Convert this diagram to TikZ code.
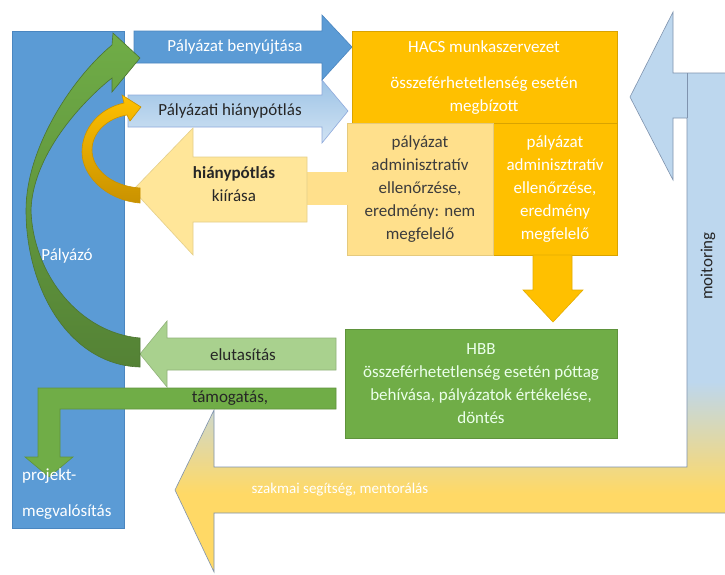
\documentclass[tikz,border=0pt]{standalone}
\usepackage{fontspec}
\setmainfont{Carlito}
\definecolor{pblue}{HTML}{5B9BD5}
\definecolor{pblueb}{HTML}{4A86C0}
\definecolor{lblue}{HTML}{9DC3E6}
\definecolor{llblue}{HTML}{BDD7EE}
\definecolor{lbord}{HTML}{8FAADC}
\definecolor{gold}{HTML}{FFC000}
\definecolor{goldd}{HTML}{C99200}
\definecolor{lyel}{HTML}{FFE699}
\definecolor{lyel2}{HTML}{FFE08C}
\definecolor{myyel}{HTML}{FFD966}
\definecolor{pgreen}{HTML}{70AD47}
\definecolor{lgreen}{HTML}{A9D18E}
\definecolor{dgreen}{HTML}{548235}
\definecolor{txt}{HTML}{262626}
\definecolor{gbord}{HTML}{7F93AE}
\pgfdeclareverticalshading{monshade}{100bp}{color(0bp)=(myyel); color(32bp)=(myyel); color(42bp)=(llblue); color(100bp)=(llblue)}
\tikzset{
  lbl/.style={font=\fontsize{17}{23}\selectfont, align=center, inner sep=0pt},
  wlbl/.style={lbl, text=white},
  dlbl/.style={lbl, text=txt},
  thinb/.style={line width=0.6pt}
}
\begin{document}
\begin{tikzpicture}[x=1pt,y=-1pt]
\useasboundingbox (0,0) rectangle (725,574);
\clip (0,0) rectangle (725,574);
\fill[white] (0,0) rectangle (725,574);

% big monitoring / mentoring arrow
\shadedraw[shading=monshade, draw=gbord, thinb]
  (630,97) -- (673,12) -- (673,73) -- (740,73) -- (740,513) -- (214,513)
  -- (214,572) -- (175,490) -- (214,410) -- (214,467) -- (687,467)
  -- (687,118) -- (673,118) -- (673,180) -- cycle;
\draw[gbord, thinb] (687,73) -- (687,118);

% Palyazo column
\filldraw[fill=pblue, draw=pblueb, thinb] (12,31) rectangle (124,528);

% Palyazat benyujtasa arrow
\filldraw[fill=pblue, draw=pblueb, thinb]
  (134,31) -- (322,31) -- (322,15) -- (352,47) -- (322,80) -- (322,63) -- (134,63) -- cycle;

% Palyazati hianypotlas arrow
\shadedraw[top color=lblue, bottom color=llblue!70!white, draw=lbord, thinb]
  (128,95) -- (322,95) -- (322,80) -- (348,111) -- (322,143) -- (322,127) -- (128,127) -- cycle;

% boxes
\filldraw[fill=gold, draw=gold!85!black, thinb] (352,31) rectangle (617,123);
\filldraw[fill=gold, draw=gold!85!black, thinb] (493,123) rectangle (617,255);
\filldraw[fill=lyel2, draw=lyel2!90!black, thinb] (347,123) rectangle (493,255);

% hianypotlas kiirasa arrow
\fill[lyel2] (305,172) rectangle (348,205);
\filldraw[fill=lyel, draw=lyel!90!black, thinb]
  (133,190) -- (193,128) -- (193,157) -- (307,157) -- (307,222) -- (193,222) -- (193,255) -- cycle;

% down arrow
\filldraw[fill=gold, draw=gold!90!black, thinb]
  (533,255) -- (572,255) -- (572,290) -- (583,290) -- (553,322) -- (523,290) -- (533,290) -- cycle;

% HBB box
\filldraw[fill=pgreen, draw=pgreen!85!black, thinb] (345,329) rectangle (617,438);

% elutasitas arrow
\filldraw[fill=lgreen, draw=lgreen!85!black, thinb]
  (140,354) -- (167,321) -- (167,338) -- (336,338) -- (336,370) -- (167,370) -- (167,387) -- cycle;

% tamogatas bent arrow
\filldraw[fill=pgreen, draw=pgreen!85!black, thinb]
  (336,388) -- (336,409) -- (60,409) -- (60,457) -- (73,457) -- (49,477) -- (25,457) -- (38,457) -- (38,388) -- cycle;

% green curved arrow
\shadedraw[top color=pgreen, bottom color=dgreen, draw=dgreen!90!black, thinb]
  (140,367) .. controls (70,365) and (26,290) .. (26,210)
  .. controls (26,150) and (70,80) .. (112,45)
  -- (113,33) -- (140,58) -- (112,92) -- (112,78)
  .. controls (90,95) and (33,150) .. (31,210)
  .. controls (33,275) and (80,333) .. (140,338) -- cycle;

% yellow curved arrow
\shadedraw[top color=gold, bottom color=goldd, draw=goldd, thinb]
  (140,203) .. controls (105,200) and (82,175) .. (82,152)
  .. controls (82,128) and (100,108) .. (124,103)
  -- (122,95) -- (141,107) -- (130,121) -- (127,115)
  .. controls (108,118) and (92,132) .. (92,150)
  .. controls (92,168) and (110,186) .. (140,188) -- cycle;

% texts
\node[wlbl] (benyujt) at (235,47) {Pályázat benyújtása};
\node[dlbl] (hiany) at (230,111) {Pályázati hiánypótlás};
\node[dlbl] (kiiras) at (234,184) {\textbf{hiánypótlás}\\kiírása};
\node[wlbl] (hacs1) at (484,47) {HACS munkaszervezet};
\node[wlbl] (hacs2) at (484,96) {összeférhetetlenség esetén\\megbízott};
\node[lbl, text=txt!90!white] (nem) at (420,189) {pályázat\\adminisztratív\\ellenőrzése,\\eredmény: nem\\megfelelő};
\node[wlbl] (megf) at (555,189) {pályázat\\adminisztratív\\ellenőrzése,\\eredmény\\megfelelő};
\node[lbl, text=white!92!green] (hbb) at (481,384) {HBB\\összeférhetetlenség esetén póttag\\behívása, pályázatok értékelése,\\döntés};
\node[dlbl] (elut) at (243,355) {elutasítás};
\node[dlbl] (tamog) at (230,398) {támogatás,};
\node[wlbl] (palyazo) at (67,256) {Pályázó};
\node[wlbl, anchor=west] (proj1) at (22,476) {projekt-};
\node[wlbl, anchor=west] (proj2) at (22,512) {megvalósítás};
\node[dlbl, rotate=90] (moni) at (708,266) {moitoring};
\node[lbl, text=white, font=\fontsize{15}{18}\selectfont] (szak) at (340,490) {szakmai segítség, mentorálás};
\end{tikzpicture}
\end{document}
